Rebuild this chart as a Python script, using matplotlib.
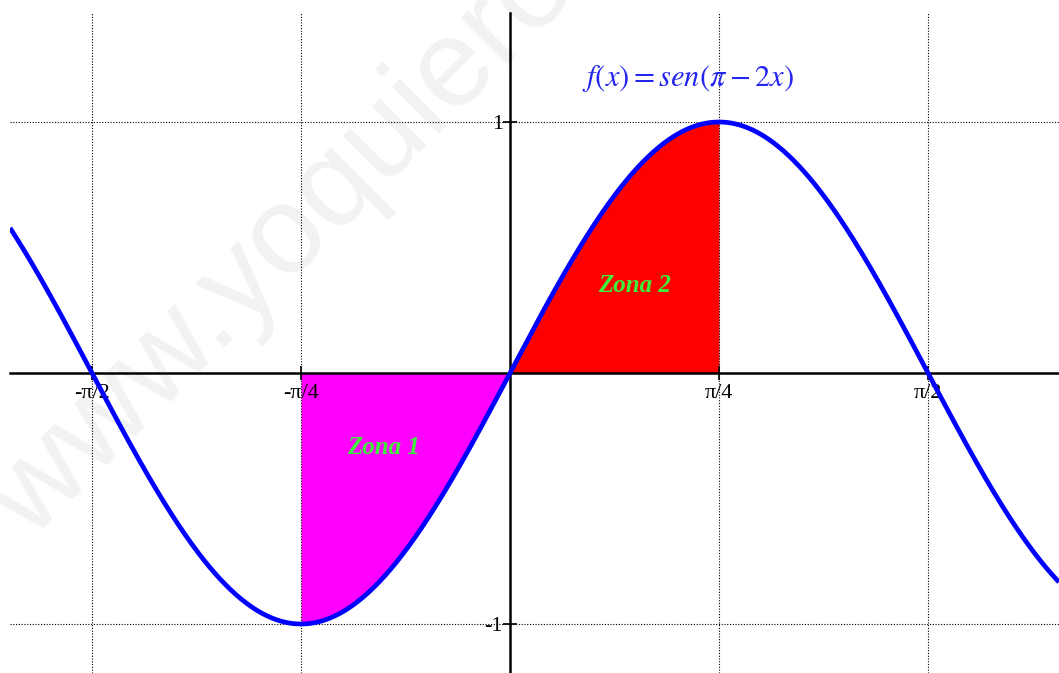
import numpy as np
import matplotlib
matplotlib.use("Agg")
import matplotlib.pyplot as plt

# ---- data ----
x_ticks = [-np.pi/2, -np.pi/4, np.pi/4, np.pi/2]
x_tick_labels = ["-\u03c0/2", "-\u03c0/4", "\u03c0/4", "\u03c0/2"]
y_ticks = [-1, 1]
y_tick_labels = ["-1", "1"]
zone1_range = (-np.pi/4, 0.0)
zone2_range = (0.0, np.pi/4)
zone_labels = ["Zona 1", "Zona 2"]
title_text = r"$f\left(x\right)=sen\left(\pi-2x\right)$"
watermark = "www.yoquieroaprobar.es"

def f(x):
    return np.sin(np.pi - 2*x)

plt.rcParams['mathtext.fontset'] = 'stix'

W, H = 1059, 673
fig = plt.figure(figsize=(W/100, H/100), dpi=100)
ax = fig.add_axes([10/W, 0, (W-10)/W, (H-13)/H])

xmin = (10-510)/209*np.pi/4
xmax = (W-510)/209*np.pi/4
ymax = (373-13)/251
ymin = (373-H)/251
ax.set_xlim(xmin, xmax)
ax.set_ylim(ymin, ymax)

# watermark (under everything)
ax.text(31/W, 1-542/H, watermark, transform=fig.transFigure, rotation=45,
        rotation_mode='anchor', ha='left', va='baseline', fontsize=90,
        color='#f2f2f2', family='Liberation Sans', zorder=0.2, clip_on=False)

xs = np.linspace(xmin, xmax, 1000)
ax.plot(xs, f(xs), color='#0000ff', lw=3.4, zorder=5, solid_capstyle='butt')

x1 = np.linspace(*zone1_range, 300)
ax.fill_between(x1, f(x1), 0, color='#ff00ff', lw=0, zorder=1)
x2 = np.linspace(*zone2_range, 300)
ax.fill_between(x2, f(x2), 0, color='#ff0000', lw=0, zorder=1)

zfont = dict(family='Liberation Serif', style='italic', weight='bold',
             color='#3cf03c', fontsize=18, ha='center', va='center', zorder=6)
ax.text(-0.4735, -0.295, zone_labels[0], **zfont)
ax.text(0.466, 0.347, zone_labels[1], **zfont)

ax.text(0.669, 1.175, title_text, color='#2525f0', fontsize=22,
        ha='center', va='center', zorder=6)

# axes through origin
for s in ['top', 'right']:
    ax.spines[s].set_visible(False)
ax.spines['left'].set_position('zero')
ax.spines['bottom'].set_position('zero')
for s in ['left', 'bottom']:
    ax.spines[s].set_linewidth(1.8)
    ax.spines[s].set_zorder(4)

ax.set_xticks(x_ticks)
ax.set_xticklabels(x_tick_labels)
ax.set_yticks(y_ticks)
ax.set_yticklabels(y_tick_labels)
ax.tick_params(axis='both', direction='inout', length=10, width=1.2,
               labelsize=16)
ax.tick_params(axis='x', pad=3)
ax.tick_params(axis='y', pad=0)
for lab in ax.get_xticklabels() + ax.get_yticklabels():
    lab.set_family('Liberation Serif')
ax.grid(True, linestyle=(0, (1, 1.5)), color='black', linewidth=0.8)
ax.xaxis.set_zorder(2)
ax.yaxis.set_zorder(2)

fig.savefig("out.png", dpi=100)
